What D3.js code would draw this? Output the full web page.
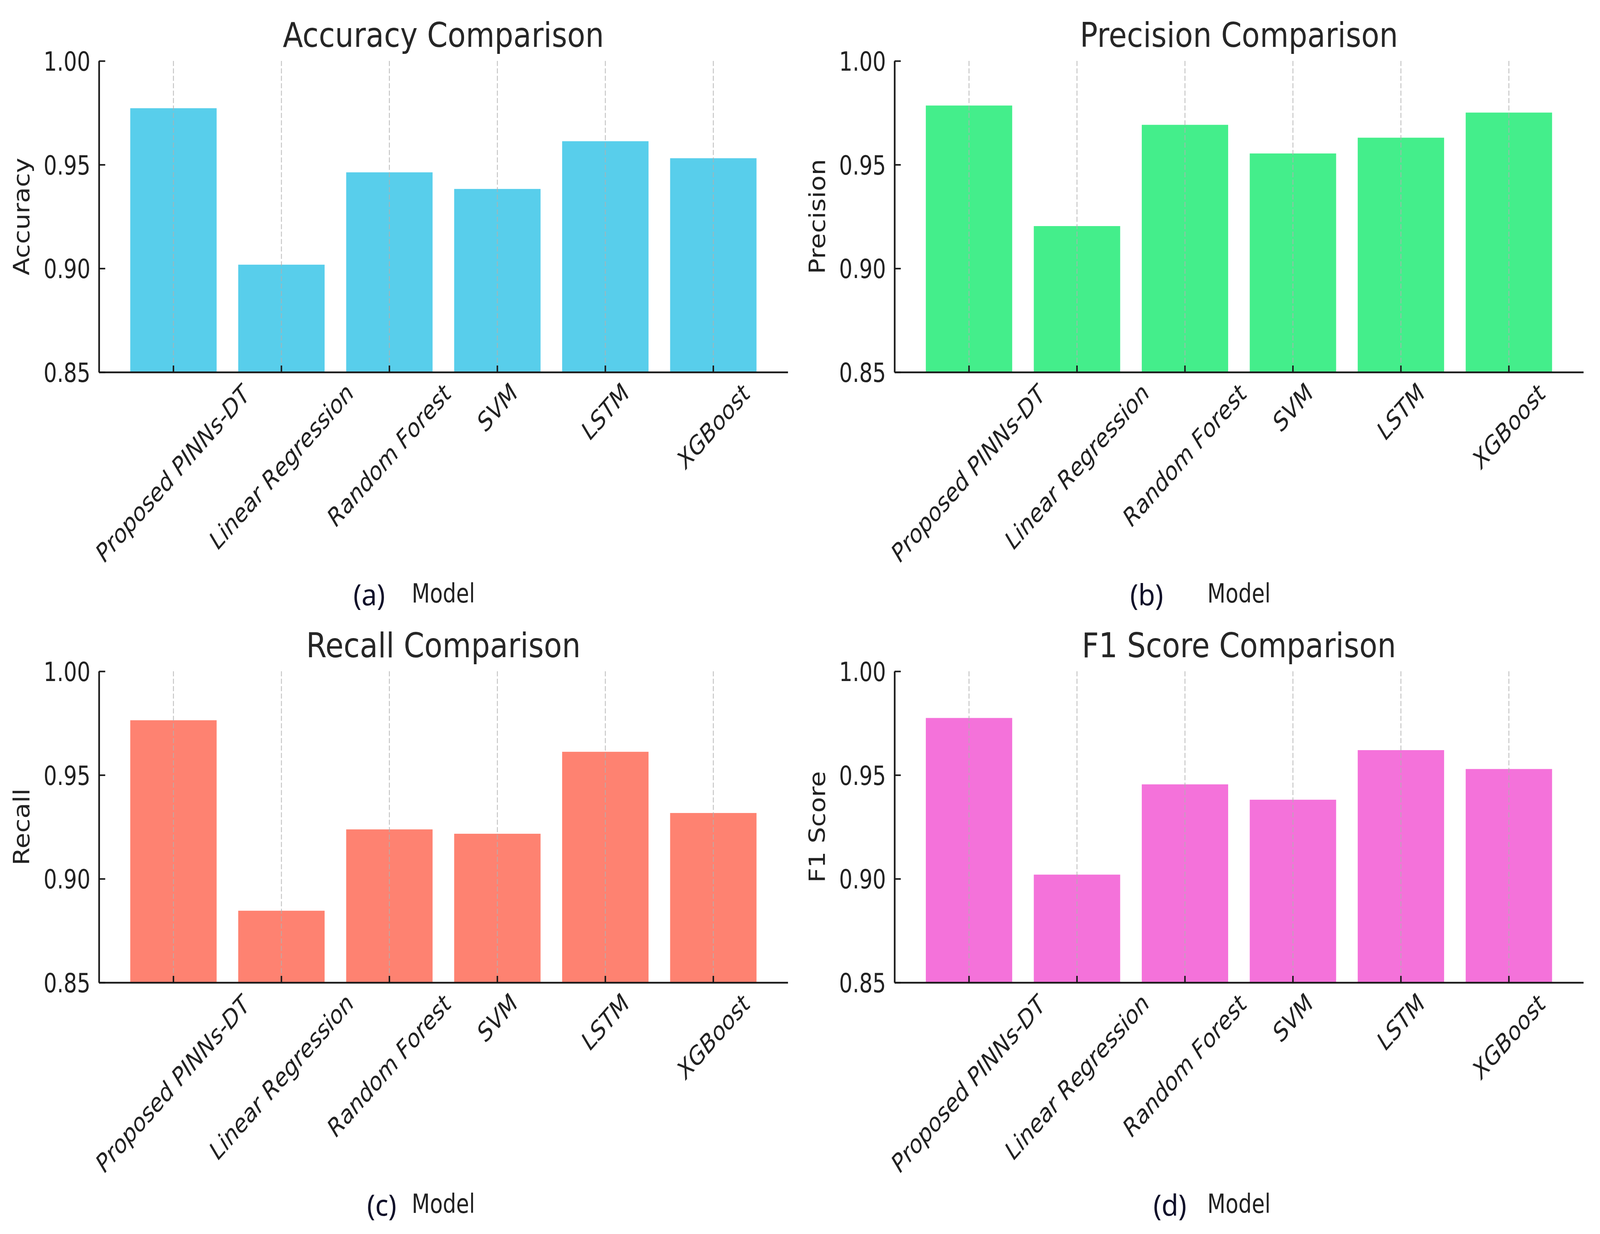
<!DOCTYPE html>
<html>
<head>
<meta charset="utf-8">
<script src="https://cdn.jsdelivr.net/npm/d3@7"></script>
<style>
  html, body { margin: 0; padding: 0; background: #ffffff; overflow: hidden; width: 100%; height: 100%; }
  svg { display: block; width: 100vw; height: 100vh; }
</style>
</head>
<body>
<script>
// ---------------- DATA ----------------
const categories = ["Proposed PINNs-DT", "Linear Regression", "Random Forest", "SVM", "LSTM", "XGBoost"];
const accuracy  = [0.9772, 0.9018, 0.9463, 0.9383, 0.9613, 0.9531];
const precision = [0.9785, 0.9204, 0.9692, 0.9554, 0.9630, 0.9751];
const recall    = [0.9764, 0.8846, 0.9238, 0.9217, 0.9612, 0.9317];
const f1score   = [0.9775, 0.9020, 0.9455, 0.9381, 0.9620, 0.9529];
const yTicks    = [0.85, 0.90, 0.95, 1.00];
const titles    = ["Accuracy Comparison", "Precision Comparison", "Recall Comparison", "F1 Score Comparison"];
const yLabels   = ["Accuracy", "Precision", "Recall", "F1 Score"];
const tags      = ["(a)", "(b)", "(c)", "(d)"];
const xLabel    = "Model";
const colors    = ["#58CEEB", "#44EE8B", "#FE8271", "#F472DA"];
const series    = [accuracy, precision, recall, f1score];

// ---------------- LAYOUT ----------------
const WIDTH = 4334, HEIGHT = 3160;
const AX_W = 1866, AX_H = 797;
const layout = [
  { left: 268,  top: 156,  tagDx: -201 },
  { left: 2423, top: 156,  tagDx: -250 },
  { left: 268,  top: 1719, tagDx: -167 },
  { left: 2423, top: 1719, tagDx: -187 }
];
const FONT = "'DejaVu Sans', 'Liberation Sans', sans-serif";

const svg = d3.select("body").append("svg")
  .attr("viewBox", `0 0 ${WIDTH} ${HEIGHT}`)
  .attr("preserveAspectRatio", "none");
svg.append("rect").attr("width", WIDTH).attr("height", HEIGHT).attr("fill", "#ffffff");

series.forEach((values, i) => {
  const L = layout[i];
  const g = svg.append("g").attr("transform", `translate(${L.left},${L.top})`);

  const x = d3.scaleBand().domain(categories).range([0, AX_W])
    .paddingInner(0.2).paddingOuter(0.29).align(0.5);
  const y = d3.scaleLinear().domain([0.85, 1.0]).range([AX_H, 0]);

  // bars
  g.append("g").selectAll("rect").data(categories).join("rect")
    .attr("x", d => x(d))
    .attr("width", x.bandwidth())
    .attr("y", (d, k) => y(values[k]))
    .attr("height", (d, k) => y(0.85) - y(values[k]))
    .attr("fill", colors[i]);

  // vertical dashed grid (drawn over bars, translucent)
  g.append("g").selectAll("line").data(categories).join("line")
    .attr("x1", d => x(d) + x.bandwidth() / 2)
    .attr("x2", d => x(d) + x.bandwidth() / 2)
    .attr("y1", 0).attr("y2", AX_H)
    .attr("stroke", "#b0b0b0")
    .attr("stroke-opacity", 0.75)
    .attr("stroke-width", 2.5)
    .attr("stroke-dasharray", "13,6");

  // y axis
  const yAxis = g.append("g")
    .call(d3.axisLeft(y).tickValues(yTicks).tickFormat(d3.format(".2f"))
      .tickSizeInner(-17).tickSizeOuter(0).tickPadding(0));
  yAxis.select(".domain").attr("stroke", "#1a1a1a").attr("stroke-width", 4.5);
  yAxis.selectAll(".tick line").attr("stroke", "#1a1a1a").attr("stroke-width", 4);
  yAxis.selectAll(".tick text")
    .attr("x", null).attr("dy", "0.36em")
    .attr("transform", "translate(-23,0) scale(0.84,1)")
    .attr("text-anchor", "end")
    .attr("fill", "#222")
    .style("font-family", FONT).style("font-size", "68px");

  // x axis
  const xAxis = g.append("g").attr("transform", `translate(0,${AX_H})`)
    .call(d3.axisBottom(x).tickSizeInner(-17).tickSizeOuter(0).tickFormat(""));
  xAxis.select(".domain").attr("stroke", "#1a1a1a").attr("stroke-width", 4.5);
  xAxis.selectAll(".tick line").attr("stroke", "#1a1a1a").attr("stroke-width", 4);
  xAxis.selectAll(".tick text").remove();

  // rotated x tick labels (bbox centred on tick, top just under the axis)
  categories.forEach(c => {
    const lg = g.append("g");
    const inner = lg.append("g").attr("transform", "scale(0.93,1) rotate(-45)");
    inner.append("text")
      .attr("text-anchor", "end")
      .attr("fill", "#222")
      .style("font-family", FONT).style("font-style", "italic").style("font-size", "63px")
      .text(c);
    const bb = lg.node().getBBox();
    const cx = x(c) + x.bandwidth() / 2;
    lg.attr("transform", `translate(${cx - (bb.x + bb.width / 2)},${AX_H + 16 - bb.y})`);
  });

  // title
  g.append("text")
    .attr("transform", `translate(${AX_W / 2},-36) scale(0.92,1)`)
    .attr("text-anchor", "middle")
    .attr("fill", "#262626")
    .style("font-family", FONT).style("font-size", "87px")
    .text(titles[i]);

  // y label
  g.append("g").attr("transform", `translate(-210,${AX_H / 2}) scale(0.9,1)`)
    .append("text")
    .attr("transform", "rotate(-90)")
    .attr("text-anchor", "middle")
    .attr("dy", "0.36em")
    .attr("fill", "#222")
    .style("font-family", FONT).style("font-size", "66px")
    .text(yLabels[i]);

  // x label
  g.append("text")
    .attr("transform", `translate(${AX_W / 2},${AX_H + 590}) scale(0.84,1)`)
    .attr("text-anchor", "middle")
    .attr("fill", "#222")
    .style("font-family", FONT).style("font-size", "68px")
    .text(xLabel);

  // panel tag (a)-(d)
  g.append("text")
    .attr("x", AX_W / 2 + L.tagDx)
    .attr("y", AX_H + 597)
    .attr("text-anchor", "middle")
    .attr("fill", "#10102a")
    .style("font-family", "'Noto Sans', 'Open Sans', sans-serif").style("font-size", "74px")
    .text(tags[i]);
});
</script>
</body>
</html>
